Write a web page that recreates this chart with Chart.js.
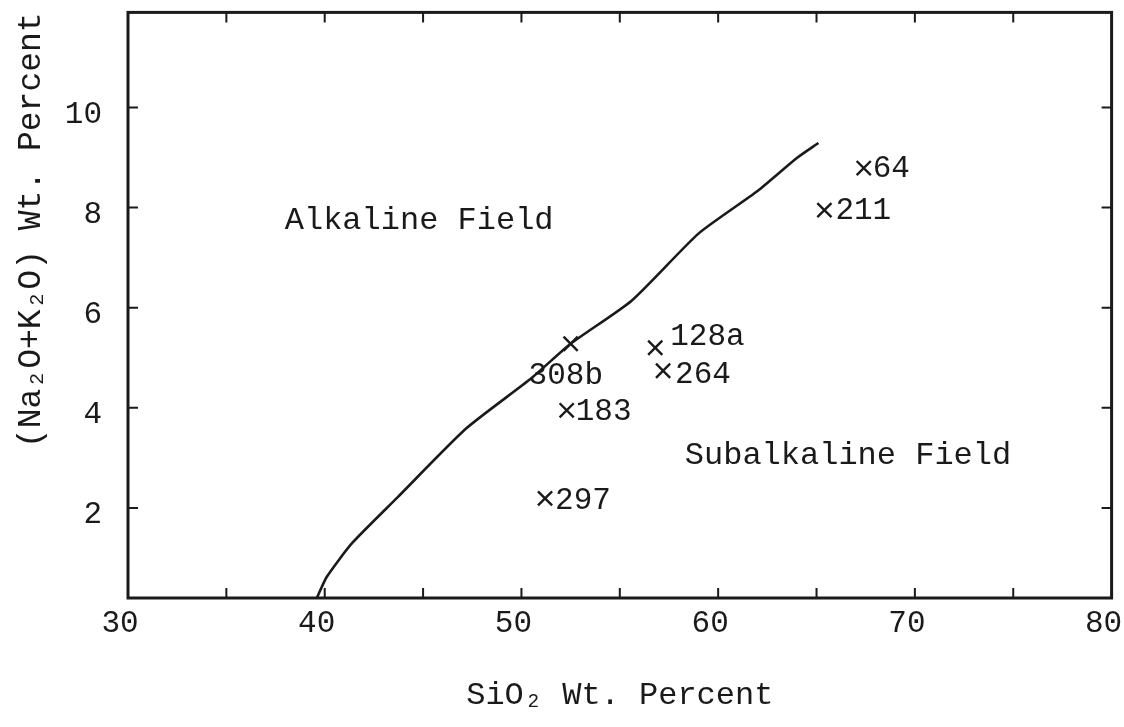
<!DOCTYPE html>
<html>
<head>
<meta charset="utf-8">
<script src="https://cdn.jsdelivr.net/npm/chart.js@4.4.1/dist/chart.umd.min.js"></script>
<style>
  html, body { margin: 0; padding: 0; background: #fff; }
</style>
</head>
<body>
<canvas id="chart-tas" width="1124" height="727"></canvas>
<script>
// TAS plot — (Na2O+K2O) vs SiO2, alkaline / subalkaline divide

// ---- data ----
const samples   = ['308b', '128a', '264', '183', '297', '64', '211'];
const sio2      = [52.5, 56.8, 57.2, 52.3, 51.2, 67.4, 65.4];
const alkalis   = [5.28, 5.20, 4.74, 3.95, 2.19, 8.79, 7.95];

const divideSiO2 = [39.6, 40.1, 41.4, 43.7, 47.2, 50.5, 52.5, 55.6, 59.0, 62.0, 64.0, 65.1];
const divideAlk  = [0.2, 0.62, 1.30, 2.21, 3.59, 4.59, 5.28, 6.14, 7.48, 8.33, 8.99, 9.29];

const xTicks = [30, 40, 50, 60, 70, 80];
const yTicks = [2, 4, 6, 8, 10];

const fieldNames = ['Alkaline Field', 'Subalkaline Field'];
const fieldSiO2  = [44.8, 66.6];
const fieldAlk   = [7.75, 3.05];

// ---- layout / style (pixels) ----
const INK = '#1a1a1a';
const MONO = '"Liberation Mono", "DejaVu Sans Mono", monospace';
// where each sample label sits relative to its marker
const labelOffsets = [[-42, 32], [15, -11], [12, 4], [9, 1], [10, 2], [9, 1], [11, 1]];

Chart.defaults.animation = false;
Chart.defaults.font.family = MONO;
Chart.defaults.color = INK;

const tasDecor = {
  id: 'tasDecor',
  afterDatasetsDraw(chart) {
    const { ctx, chartArea: a, scales: { x, y } } = chart;
    ctx.save();
    ctx.strokeStyle = INK;
    ctx.lineCap = 'square';

    // inward tick marks on all four sides
    ctx.lineWidth = 2;
    const tl = 9;
    for (let v = 35; v < 80; v += 5) {
      const px = x.getPixelForValue(v);
      ctx.beginPath();
      ctx.moveTo(px, a.bottom); ctx.lineTo(px, a.bottom - tl);
      ctx.moveTo(px, a.top);    ctx.lineTo(px, a.top + tl);
      ctx.stroke();
    }
    yTicks.forEach(v => {
      const py = y.getPixelForValue(v);
      ctx.beginPath();
      ctx.moveTo(a.left, py);  ctx.lineTo(a.left + tl, py);
      ctx.moveTo(a.right, py); ctx.lineTo(a.right - tl, py);
      ctx.stroke();
    });

    // frame
    ctx.lineWidth = 3;
    ctx.strokeRect(a.left, a.top, a.right - a.left, a.bottom - a.top);

    // sample labels
    ctx.fillStyle = INK;
    ctx.font = '31px ' + MONO;
    ctx.textAlign = 'left';
    ctx.textBaseline = 'middle';
    samples.forEach((s, i) => {
      const px = x.getPixelForValue(sio2[i]);
      const py = y.getPixelForValue(alkalis[i]);
      ctx.fillText(s, px + labelOffsets[i][0], py + labelOffsets[i][1]);
    });

    // field names
    ctx.font = '32px ' + MONO;
    ctx.textAlign = 'center';
    fieldNames.forEach((t, i) => {
      ctx.fillText(t, x.getPixelForValue(fieldSiO2[i]), y.getPixelForValue(fieldAlk[i]));
    });
    ctx.restore();
  }
};

new Chart(document.getElementById('chart-tas').getContext('2d'), {
  type: 'scatter',
  data: {
    datasets: [
      {
        label: 'Divide',
        data: divideSiO2.map((v, i) => ({ x: v, y: divideAlk[i] })),
        showLine: true,
        borderColor: INK,
        borderWidth: 2.6,
        pointRadius: 0,
        tension: 0.2,
        fill: false,
      },
      {
        label: 'Samples',
        data: sio2.map((v, i) => ({ x: v, y: alkalis[i] })),
        pointStyle: 'crossRot',
        pointRadius: 10,
        borderColor: INK,
        borderWidth: 2.4,
      }
    ]
  },
  options: {
    responsive: false,
    layout: { padding: { top: 11, right: 6, left: 0, bottom: 0 } },
    plugins: { legend: { display: false }, tooltip: { enabled: false } },
    scales: {
      x: {
        type: 'linear', min: 30, max: 80,
        afterBuildTicks: s => { s.ticks = xTicks.map(v => ({ value: v })); },
        afterFit: s => { s.height = 129; s.paddingLeft = 0; s.paddingRight = 0; },
        grid: { display: false, drawTicks: false },
        border: { display: false },
        ticks: { font: { size: 31 }, padding: 7, labelOffset: -8, maxRotation: 0, autoSkip: false },
        title: { display: true, text: 'SiO₂ Wt. Percent', font: { size: 32, lineHeight: 1.2 },
                 padding: { top: 0, bottom: 12 } }
      },
      y: {
        type: 'linear', min: 0.2, max: 11.9,
        afterBuildTicks: s => { s.ticks = yTicks.map(v => ({ value: v })); },
        afterFit: s => { s.width = 128; s.paddingTop = 0; s.paddingBottom = 0; },
        grid: { display: false, drawTicks: false },
        border: { display: false },
        ticks: { font: { size: 31 }, padding: 26, labelOffset: 7, autoSkip: false },
        title: { display: true, text: '(Na₂O+K₂O) Wt. Percent', align: 'end',
                 font: { size: 33, lineHeight: 1.2 }, padding: { top: 11, bottom: 0 } }
      }
    }
  },
  plugins: [tasDecor]
});
</script>
</body>
</html>
